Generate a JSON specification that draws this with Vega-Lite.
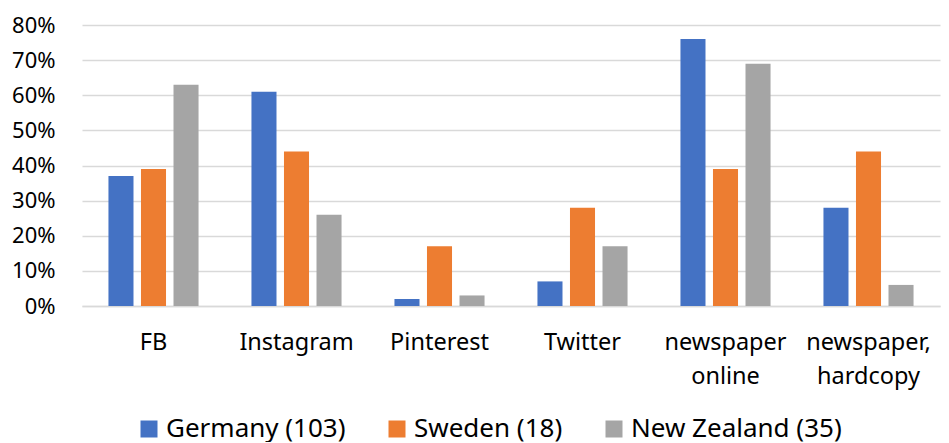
{
  "$schema": "https://vega.github.io/schema/vega-lite/v6.json",
  "description": "Share of respondents by channel and country",
  "width": 858,
  "height": 281,
  "padding": {"left": 11, "top": 14, "right": 9, "bottom": 0},
  "config": {
    "font": "Noto Sans",
    "view": {"stroke": null}
  },
  "data": {
    "values": [
      {"channel": "FB", "country": "Germany (103)", "share": 0.37},
      {"channel": "FB", "country": "Sweden (18)", "share": 0.39},
      {"channel": "FB", "country": "New Zealand (35)", "share": 0.63},
      {"channel": "Instagram", "country": "Germany (103)", "share": 0.61},
      {"channel": "Instagram", "country": "Sweden (18)", "share": 0.44},
      {"channel": "Instagram", "country": "New Zealand (35)", "share": 0.26},
      {"channel": "Pinterest", "country": "Germany (103)", "share": 0.02},
      {"channel": "Pinterest", "country": "Sweden (18)", "share": 0.17},
      {"channel": "Pinterest", "country": "New Zealand (35)", "share": 0.03},
      {"channel": "Twitter", "country": "Germany (103)", "share": 0.07},
      {"channel": "Twitter", "country": "Sweden (18)", "share": 0.28},
      {"channel": "Twitter", "country": "New Zealand (35)", "share": 0.17},
      {"channel": "newspaper online", "country": "Germany (103)", "share": 0.76},
      {"channel": "newspaper online", "country": "Sweden (18)", "share": 0.39},
      {"channel": "newspaper online", "country": "New Zealand (35)", "share": 0.69},
      {"channel": "newspaper, hardcopy", "country": "Germany (103)", "share": 0.28},
      {"channel": "newspaper, hardcopy", "country": "Sweden (18)", "share": 0.44},
      {"channel": "newspaper, hardcopy", "country": "New Zealand (35)", "share": 0.06}
    ]
  },
  "mark": {"type": "bar"},
  "encoding": {
    "x": {
      "field": "channel",
      "type": "nominal",
      "sort": null,
      "title": null,
      "scale": {"paddingInner": 0.37, "paddingOuter": 0.185},
      "axis": {
        "labelAngle": 0,
        "labelFontSize": 23.5,
        "labelColor": "#000000",
        "labelPadding": 24,
        "labelLineHeight": 34,
        "labelExpr": "split(datum.label, ' ')",
        "ticks": false,
        "domainColor": "#d9d9d9",
        "domainWidth": 1.5
      }
    },
    "xOffset": {
      "field": "country",
      "type": "nominal",
      "sort": null,
      "scale": {"paddingInner": 0.23}
    },
    "y": {
      "field": "share",
      "type": "quantitative",
      "title": null,
      "scale": {"domain": [0, 0.8]},
      "axis": {
        "format": ".0%",
        "values": [0, 0.1, 0.2, 0.3, 0.4, 0.5, 0.6, 0.7, 0.8],
        "labelOverlap": false,
        "labelFontSize": 22,
        "labelColor": "#000000",
        "labelPadding": 27,
        "ticks": false,
        "domain": false,
        "gridColor": "#d9d9d9",
        "gridWidth": 1.5
      }
    },
    "color": {
      "field": "country",
      "type": "nominal",
      "sort": null,
      "title": null,
      "scale": {"range": ["#4472C4", "#ED7D31", "#A5A5A5"]},
      "legend": {
        "orient": "none",
        "legendX": 54,
        "legendY": 391,
        "direction": "horizontal",
        "symbolType": "square",
        "symbolSize": 289,
        "symbolStrokeWidth": 0,
        "labelFontSize": 26,
        "labelLimit": 0,
        "labelColor": "#000000",
        "columnPadding": 38,
        "labelOffset": 4
      }
    }
  }
}
